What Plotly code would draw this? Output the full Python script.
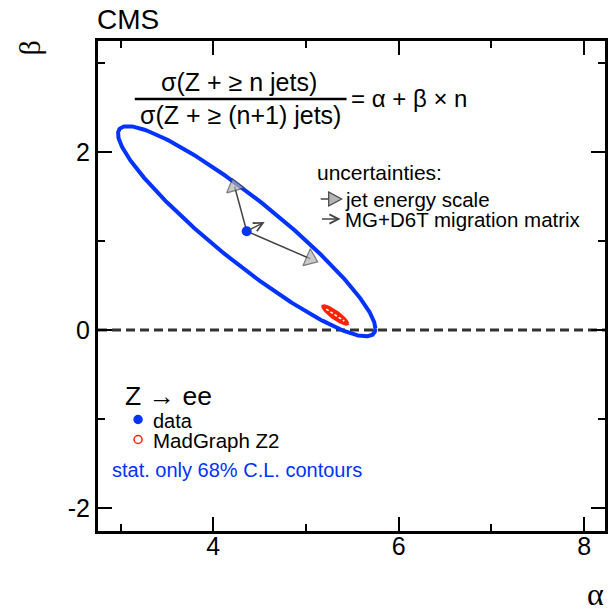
import numpy as np
import plotly.graph_objects as go

# ---------------- data ----------------
data_point = [4.36, 1.11]          # fitted (alpha, beta) for data
data_sigma = [1.388, 1.181]        # 68% contour half-extent in alpha / beta
data_rho = -0.925                  # correlation of the data contour
mc_point = [5.315, 0.168]          # MadGraph Z2 (alpha, beta)
mc_sigma = [0.14, 0.11]
mc_rho = -0.88
jes_up_tip = [4.207, 1.699]        # jet energy scale shift (up)
jes_down_tip = [5.125, 0.765]      # jet energy scale shift (down)
mg_tip = [4.554, 1.213]            # MG+D6T migration matrix shift

x_range = [2.756, 8.225]
y_range = [-2.258, 3.247]
x_ticks = [4, 6, 8]
x_ticktext = ["4", "6", "8"]
x_minor = [3, 5, 7]
y_ticks = [-2, 0, 2]
y_ticktext = ["-2", "0", "2"]
y_minor = [-1, 1, 3]

# ---------------- layout geometry ----------------
W, H = 609, 615
ML, MR, MT, MB = 98, 1, 41, 84
PW, PH = W - ML - MR, H - MT - MB
PXX = PW / (x_range[1] - x_range[0])
PXY = PH / (y_range[1] - y_range[0])

SANS = "Liberation Sans, Arial, Helvetica, sans-serif"
SERIF = "Liberation Serif, Times New Roman, serif"
BLUE = "#0033ff"
RED = "#ff2200"


def P(px, py):
    """pixel -> paper coordinates"""
    return (px - ML) / PW, (MT + PH - py) / PH


def ellipse(c, s, rho, n=361):
    t = np.linspace(0, 2 * np.pi, n)
    x = c[0] + s[0] * np.cos(t)
    y = c[1] + s[1] * (rho * np.cos(t) + np.sqrt(1 - rho ** 2) * np.sin(t))
    return x, y


fig = go.Figure()

# data contour
ex, ey = ellipse(data_point, data_sigma, data_rho)
fig.add_trace(go.Scatter(x=ex, y=ey, mode="lines",
                         line=dict(color=BLUE, width=4), hoverinfo="skip"))

# MC contour
mx, my = ellipse(mc_point, mc_sigma, mc_rho)
fig.add_trace(go.Scatter(x=mx, y=my, mode="lines", fill="toself",
                         fillcolor=RED, line=dict(color=RED, width=2),
                         hoverinfo="skip"))
k = 0.7
fig.add_trace(go.Scatter(
    x=[mc_point[0] - k * mc_sigma[0], mc_point[0] + k * mc_sigma[0]],
    y=[mc_point[1] - k * mc_sigma[1] * mc_rho, mc_point[1] + k * mc_sigma[1] * mc_rho],
    mode="lines", line=dict(color="white", width=1.5, dash="3px,2px"),
    hoverinfo="skip"))

# JES arrows (gray triangle heads)
S = 16
for tip in (jes_up_tip, jes_down_tip):
    dxp = (tip[0] - data_point[0]) * PXX
    dyp = (tip[1] - data_point[1]) * PXY
    L = np.hypot(dxp, dyp)
    r = S / 2
    cx = tip[0] - r * dxp / L / PXX
    cy = tip[1] - r * dyp / L / PXY
    fig.add_trace(go.Scatter(
        x=[data_point[0], cx], y=[data_point[1], cy], mode="lines+markers",
        line=dict(color="#444444", width=1.5),
        marker=dict(symbol="triangle-up", size=[0, S], angleref="previous",
                    color="#b4b4b4", line=dict(color="#444444", width=1.2)),
        hoverinfo="skip"))

# MG arrow (open head)
fig.add_annotation(x=mg_tip[0], y=mg_tip[1], ax=data_point[0], ay=data_point[1],
                   xref="x", yref="y", axref="x", ayref="y", text="",
                   showarrow=True, arrowhead=5, arrowsize=1.2, arrowwidth=1.5,
                   arrowcolor="#444444")

# data point
fig.add_trace(go.Scatter(x=[data_point[0]], y=[data_point[1]], mode="markers",
                         marker=dict(color=BLUE, size=10), hoverinfo="skip"))

shapes = []
# dashed zero line
shapes.append(dict(type="line", xref="paper", yref="y", x0=0, x1=1, y0=0, y1=0,
                   line=dict(color="#333333", width=3, dash="9px,5px"), layer="below"))
# fraction bar
a0, b0 = P(135, 99)
a1, _ = P(348, 99)
shapes.append(dict(type="line", xref="paper", yref="paper", x0=a0, x1=a1, y0=b0, y1=b0,
                   line=dict(color="black", width=2.5)))
# legend: triangle sample
ax0, ay0 = P(322, 199)
shapes.append(dict(type="line", xref="paper", yref="paper", xsizemode="pixel",
                   xanchor=ax0, x0=0, x1=10, y0=ay0, y1=ay0,
                   line=dict(color="#444444", width=1.5)))
shapes.append(dict(type="path", xref="paper", yref="paper", xsizemode="pixel",
                   ysizemode="pixel", xanchor=ax0, yanchor=ay0,
                   path="M8,-7 L21,0 L8,7 Z", fillcolor="#b4b4b4",
                   line=dict(color="#444444", width=1.2)))
# legend: blue dot / red open circle
for (px, py, fill, col) in [(138.3, 419.5, BLUE, BLUE), (138.3, 439.5, "white", RED)]:
    cxp, cyp = P(px, py)
    shapes.append(dict(type="circle", xref="paper", yref="paper", xsizemode="pixel",
                       ysizemode="pixel", xanchor=cxp, yanchor=cyp,
                       x0=-4, x1=4, y0=-4, y1=4, fillcolor=fill,
                       line=dict(color=col, width=1.5)))

# legend chevron arrow
tx, ty = P(342, 219)
fig.add_annotation(x=tx, y=ty, xref="paper", yref="paper", ax=-20, ay=0, text="",
                   showarrow=True, arrowhead=5, arrowsize=1.2, arrowwidth=1.5,
                   arrowcolor="#444444")


def txt(s, px, py, size, anchor="left", color="black", family=SANS, angle=0):
    x, y = P(px, py)
    fig.add_annotation(x=x, y=y, xref="paper", yref="paper", text=s, showarrow=False,
                       xanchor=anchor, yanchor="middle", textangle=angle,
                       borderpad=0,
                       font=dict(size=size, color=color, family=family))


txt("CMS", 96, 20, 28)
txt("β", 30, 48, 30, anchor="center", family=SERIF, angle=-90)
txt("α", 598, 594, 32, anchor="center", family=SERIF)
txt("σ(Z + ≥ n jets)", 240, 82, 25, anchor="center")
txt("σ(Z + ≥ (n+1) jets)", 241.5, 115, 25, anchor="center")
txt("= α + β × n", 351, 99, 24)
txt("uncertainties:", 317, 172, 21)
txt("jet energy scale", 345, 199, 20.5)
txt("MG+D6T migration matrix", 345, 219.5, 20.5)
txt("Z → ee", 124, 396, 26.5)
txt("data", 152, 420.5, 20)
txt("MadGraph Z2", 152, 440.5, 20.5)
txt("stat. only 68% C.L. contours", 111, 470, 20, color=BLUE)

axis_common = dict(showgrid=False, zeroline=False, showline=True, linecolor="black",
                   linewidth=3, mirror="ticks", ticks="inside", ticklen=14,
                   tickwidth=2, tickcolor="black",
                   tickfont=dict(family=SANS, size=25, color="black"))

fig.update_layout(
    width=W, height=H, autosize=False,
    margin=dict(l=ML, r=MR, t=MT, b=MB, pad=0),
    paper_bgcolor="white", plot_bgcolor="white",
    showlegend=False,
    shapes=shapes,
    xaxis=dict(range=x_range, tickvals=x_ticks, ticktext=x_ticktext,
               ticklabelstandoff=-9,
               minor=dict(tickvals=x_minor, ticks="inside", ticklen=7, tickwidth=2,
                          tickcolor="black"),
               **axis_common),
    yaxis=dict(range=y_range, tickvals=y_ticks, ticktext=y_ticktext,
               ticklabelstandoff=0,
               minor=dict(tickvals=y_minor, ticks="inside", ticklen=7, tickwidth=2,
                          tickcolor="black"),
               **axis_common),
)

fig.write_html("out.html")
